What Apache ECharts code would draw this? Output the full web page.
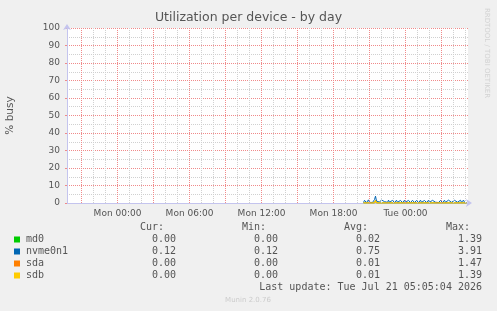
<!DOCTYPE html>
<html style="height: 100%">
<head>
<meta charset="utf-8">
<script src="https://cdn.jsdelivr.net/npm/echarts@6/dist/echarts.min.js"></script>
</head>
<body style="height: 100%; margin: 0; background: #f0f0f0">
<div id="container" style="width: 497px; height: 311px"></div>
<script type="text/javascript">
var dom = document.getElementById("container");
var myChart = echarts.init(dom);

// legend table
var seriesNames = ['md0', 'nvme0n1', 'sda', 'sdb'];
var seriesColors = ['#00cc00', '#0066b3', '#ff8000', '#ffcc00'];
var curValues = ['0.00', '0.12', '0.00', '0.00'];
var minValues = ['0.00', '0.12', '0.00', '0.00'];
var avgValues = ['0.02', '0.75', '0.01', '0.01'];
var maxValues = ['1.39', '3.91', '1.47', '1.39'];
var lastUpdate = 'Last update: Tue Jul 21 05:05:04 2026';

// x in hours from Mon 00:00, one sample every 5 min starting Mon 20:30
var firstSample = 20.5;
var sampleStep = 5 / 60;
var nvmeValues = [
	0.30, 1.52, 0.41, 0.22, 0.48, 1.80, 0.35, 0.40, 1.25, 0.32, 0.61, 1.92,
	3.91, 1.10, 0.42, 1.60, 0.52, 0.93, 1.71, 0.60, 1.34, 0.78, 1.55, 0.47,
	0.35, 1.62, 0.44, 0.28, 0.31, 1.49, 0.38, 0.25, 0.33, 1.58, 0.41, 0.26,
	0.29, 1.47, 0.37, 0.24, 0.32, 1.55, 0.40, 0.27, 0.30, 1.50, 0.36, 0.23,
	0.31, 1.53, 0.42, 0.26, 0.28, 1.46, 0.35, 0.22, 0.33, 1.61, 0.39, 0.25,
	0.30, 1.44, 0.41, 0.27, 0.34, 1.56, 0.37, 0.24, 0.29, 1.52, 0.83, 1.67,
	0.45, 1.38, 0.31, 0.26, 0.32, 1.49, 0.40, 0.23, 0.28, 1.57, 0.36, 0.25,
	0.33, 1.63, 0.92, 1.71, 0.38, 0.27, 0.31, 1.54, 0.85, 1.88, 0.44, 0.29,
	0.32, 1.59, 0.40, 0.91, 1.65, 0.37, 0.28, 0.12
];
// [sample index, value]
var md0Points = [[0, 0], [11, 0], [12, 1.39], [13, 0], [103, 0]];
var sdaPoints = [[0, 0], [11, 0], [12, 1.47], [13, 0], [103, 0]];
var sdbPoints = [[0, 0], [11, 0], [12, 1.39], [13, 0], [103, 0]];

// 12 px per hour, shifted half a pixel so hour lines land on pixel centres
var xMin = -50.5 / 12;
var xMax = 350.5 / 12;
var majorHours = [-3, 0, 3, 6, 9, 12, 15, 18, 21, 24, 27];
var minorHours = [-2, -1, 1, 2, 4, 5, 7, 8, 10, 11, 13, 14, 16, 17, 19, 20, 22, 23, 25, 26, 28, 29];
var labelHours = [0, 6, 12, 18, 24];
var labelTexts = ['Mon 00:00', 'Mon 06:00', 'Mon 12:00', 'Mon 18:00', 'Tue 00:00'];

var textColor = '#555';
var axisColor = '#c4c4ee';
var majorGrid = '#f08a8a';
var minorGrid = '#d0d0d0';
var dots = [1, 1];
var mono = 'DejaVu Sans Mono';

function toXY(i, v) {
	return [firstSample + i * sampleStep, v];
}
var seriesData = [
	md0Points.map(function(p) { return toXY(p[0], p[1]); }),
	nvmeValues.map(function(v, i) { return toXY(i, v); }),
	sdaPoints.map(function(p) { return toXY(p[0], p[1]); }),
	sdbPoints.map(function(p) { return toXY(p[0], p[1]); })
];

// vertical grid lines + time labels
var gridLines = [];
minorHours.forEach(function(h) {
	gridLines.push({
		xAxis: h,
		lineStyle: { color: minorGrid, type: dots, width: 1 },
		label: { show: false }
	});
});
majorHours.forEach(function(h) {
	var k = labelHours.indexOf(h);
	gridLines.push({
		xAxis: h,
		lineStyle: { color: majorGrid, type: dots, width: 1 },
		label: {
			show: k >= 0,
			position: 'start',
			distance: 6,
			formatter: k >= 0 ? labelTexts[k] : '',
			fontFamily: 'DejaVu Sans', fontSize: 9, color: textColor
		}
	});
});

var graphics = [];
function addText(txt, x, y, align, font, fill) {
	graphics.push({
		type: 'text', x: x, y: y, silent: true,
		style: { text: txt, font: font, fill: fill || textColor, align: align, verticalAlign: 'middle' }
	});
}
var monoFont = '10px "' + mono + '"';
var headerY = 227.5;
addText('Cur:', 164, headerY, 'right', monoFont);
addText('Min:', 266, headerY, 'right', monoFont);
addText('Avg:', 368, headerY, 'right', monoFont);
addText('Max:', 470, headerY, 'right', monoFont);
seriesNames.forEach(function(name, i) {
	var y = 239.5 + i * 12;
	graphics.push({
		type: 'rect', silent: true,
		shape: { x: 14, y: y - 3, width: 6, height: 6 },
		style: { fill: seriesColors[i] }
	});
	addText(name, 26, y, 'left', monoFont);
	addText(curValues[i], 176, y, 'right', monoFont);
	addText(minValues[i], 278, y, 'right', monoFont);
	addText(avgValues[i], 380, y, 'right', monoFont);
	addText(maxValues[i], 482, y, 'right', monoFont);
});
addText(lastUpdate, 482, 287.5, 'right', monoFont);
addText('Munin 2.0.76', 248, 300, 'center', '7px "DejaVu Sans"', '#cccccc');
graphics.push({
	type: 'text', x: 487, y: 53, rotation: -Math.PI / 2, silent: true,
	style: { text: 'RRDTOOL / TOBI OETIKER', font: '7px "DejaVu Sans"', fill: '#d2d2d2', align: 'center', verticalAlign: 'middle' }
});

var series = [{
	type: 'line',
	data: [],
	z: 1,
	silent: true,
	markLine: {
		silent: true,
		symbol: ['none', 'none'],
		animation: false,
		data: gridLines
	}
}];
seriesNames.forEach(function(name, i) {
	series.push({
		name: name,
		type: 'line',
		data: seriesData[i],
		symbol: 'none',
		z: 3,
		lineStyle: { width: 1, color: seriesColors[i] },
		itemStyle: { color: seriesColors[i] }
	});
});

option = {
	backgroundColor: '#f0f0f0',
	animation: false,
	title: {
		text: 'Utilization per device - by day',
		left: 'center',
		top: 11,
		padding: 0,
		textStyle: { fontFamily: 'DejaVu Sans', fontSize: 12.5, fontWeight: 'normal', color: textColor }
	},
	grid: {
		left: 67, right: 29, top: 28, bottom: 108,
		containLabel: false,
		outerBoundsMode: 'none',
		show: true, backgroundColor: '#ffffff', borderWidth: 0
	},
	xAxis: {
		type: 'value',
		min: xMin,
		max: xMax,
		axisLine: {
			onZero: false,
			lineStyle: { color: axisColor },
			symbol: ['none', 'arrow'], symbolSize: [6, 6], symbolOffset: [0, 4]
		},
		axisTick: { show: false },
		axisLabel: { show: false },
		splitLine: { show: false }
	},
	yAxis: {
		type: 'value',
		min: 0,
		max: 100,
		interval: 10,
		name: '% busy',
		nameLocation: 'middle',
		nameGap: 51,
		nameTextStyle: { fontFamily: 'DejaVu Sans', fontSize: 10.5, color: textColor },
		axisLine: {
			show: true,
			onZero: false,
			lineStyle: { color: axisColor },
			symbol: ['none', 'arrow'], symbolSize: [6, 6], symbolOffset: [0, 4]
		},
		axisTick: { show: true, length: 2, lineStyle: { color: majorGrid } },
		axisLabel: { margin: 7, fontFamily: 'DejaVu Sans', fontSize: 9, color: textColor },
		splitLine: { show: true, lineStyle: { color: majorGrid, type: dots, width: 1 } },
		minorTick: { show: false, splitNumber: 2 },
		minorSplitLine: { show: true, lineStyle: { color: minorGrid, type: dots, width: 1 } }
	},
	series: series,
	graphic: graphics
};
if(option && typeof option === "object") {
	myChart.setOption(option, true);
}
</script>
</body>
</html>
